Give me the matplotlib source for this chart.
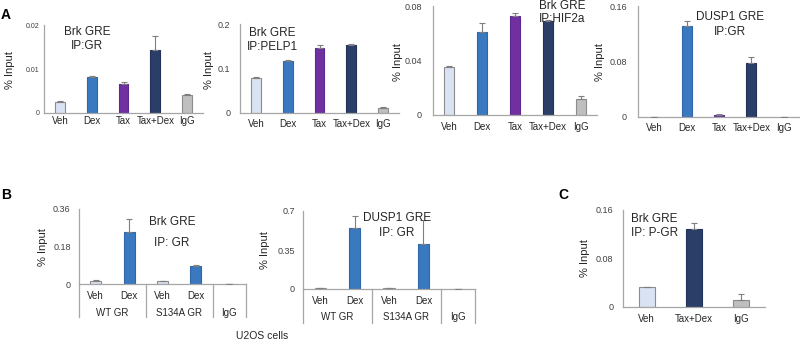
import numpy as np
import matplotlib
matplotlib.use('Agg')
import matplotlib.pyplot as plt
from matplotlib import transforms

plt.rcParams['font.family'] = ['Liberation Sans', 'DejaVu Sans']

# ---- dati ----
cat_a = ['Veh', 'Dex', 'Tax', 'Tax+Dex', 'IgG']
brk_gr = [0.0026, 0.0081, 0.0066, 0.0143, 0.0040]
brk_gr_err = [0.0002, 0.0002, 0.0005, 0.0031, 0.0003]
brk_pelp1 = [0.078, 0.117, 0.145, 0.153, 0.012]
brk_pelp1_err = [0.002, 0.003, 0.007, 0.002, 0.002]
brk_hif2a = [0.035, 0.061, 0.073, 0.069, 0.012]
brk_hif2a_err = [0.0006, 0.0065, 0.002, 0.001, 0.002]
dusp1_gr = [0.0005, 0.131, 0.003, 0.078, 0.0003]
dusp1_gr_err = [0.0001, 0.007, 0.001, 0.008, 0.0001]

cat_b = ['Veh', 'Dex', 'Veh', 'Dex', '']
gruppi_b = ['WT GR', 'S134A GR', 'IgG']
gruppi_b_pos = [0.5, 2.5, 4]
u2os_brk = [0.016, 0.248, 0.013, 0.086, 0.001]
u2os_brk_err = [0.003, 0.064, 0.002, 0.004, 0.0005]
u2os_dusp1 = [0.005, 0.543, 0.005, 0.403, 0.002]
u2os_dusp1_err = [0.002, 0.11, 0.002, 0.22, 0.001]

cat_c = ['Veh', 'Tax+Dex', 'IgG']
pgr = [0.033, 0.128, 0.011]
pgr_err = [0.0006, 0.010, 0.011]

# ---- stile ----
col = {'Veh': '#dae3f3', 'Dex': '#3a78c0', 'Tax': '#7030a0',
       'Tax+Dex': '#2b3e68', 'IgG': '#bfbfbf'}
edge = {'Veh': '#8c8c8c', 'Dex': '#2f66a8', 'Tax': '#5f2890',
        'Tax+Dex': '#22325a', 'IgG': '#8c8c8c'}
W, H = 800, 341

fig = plt.figure(figsize=(8, 3.41), dpi=100)


def nuovo_ax(l, t, w, h):
    return fig.add_axes([l / W, 1 - (t + h) / H, w / W, h / H])


def testo(x, y, s, **kw):
    fig.text(x / W, 1 - y / H, s, **kw)


def grafico(ax, cats, vals, errs, keys, ymax, yticks, ylabs, bw, ypad, xpad, yfs=6.5):
    x = np.arange(len(vals))
    ax.bar(x, vals, width=bw, color=[col[k] for k in keys],
           edgecolor=[edge[k] for k in keys], linewidth=0.8, zorder=2)
    ax.errorbar(x, vals, yerr=[np.zeros(len(vals)), errs], fmt='none',
                ecolor='#7f7f7f', elinewidth=0.8, capsize=2, capthick=0.8, zorder=3)
    ax.set_xlim(-0.5, len(vals) - 0.5)
    ax.set_ylim(0, ymax)
    ax.set_yticks(yticks)
    ax.set_yticklabels(ylabs, fontsize=yfs, color='#404040')
    ax.set_xticks(x)
    ax.set_xticklabels(cats, fontsize=7, color='#262626')
    ax.tick_params(axis='y', length=0, pad=ypad)
    ax.tick_params(axis='x', length=0, pad=xpad)
    for s in ['top', 'right']:
        ax.spines[s].set_visible(False)
    for s in ['left', 'bottom']:
        ax.spines[s].set_color('#a6a6a6')
        ax.spines[s].set_linewidth(0.9)
    ax.patch.set_alpha(0)


# ---- pannello A ----
ax1 = nuovo_ax(44, 25, 159, 88)
grafico(ax1, cat_a, brk_gr, brk_gr_err, cat_a, 0.02, [0, 0.01, 0.02],
        ['0', '0.01', '0.02'], 0.31, 3.5, 2, yfs=5)
ax2 = nuovo_ax(240, 24, 159, 89)
grafico(ax2, cat_a, brk_pelp1, brk_pelp1_err, cat_a, 0.2, [0, 0.1, 0.2],
        ['0', '0.1', '0.2'], 0.31, 7, 4)
ax3 = nuovo_ax(433, 6, 164, 109)
grafico(ax3, cat_a, brk_hif2a, brk_hif2a_err, cat_a, 0.08, [0, 0.04, 0.08],
        ['0', '0.04', '0.08'], 0.31, 8, 5)
ax4 = nuovo_ax(638, 6, 162, 111)
grafico(ax4, cat_a, dusp1_gr, dusp1_gr_err, cat_a, 0.16, [0, 0.08, 0.16],
        ['0', '0.08', '0.16'], 0.31, 8, 4)

# ---- pannello B ----
keys_b = ['Veh', 'Dex', 'Veh', 'Dex', 'IgG']
ax5 = nuovo_ax(79, 209, 167, 75)
grafico(ax5, cat_b, u2os_brk, u2os_brk_err, keys_b, 0.36, [0, 0.18, 0.36],
        ['0', '0.18', '0.36'], 0.33, 6, 5)
ax6 = nuovo_ax(303, 211, 172, 78)
grafico(ax6, cat_b, u2os_dusp1, u2os_dusp1_err, keys_b, 0.7, [0, 0.35, 0.7],
        ['0', '0.35', '0.7'], 0.33, 6, 5)

for ax, ysep, ygrp in [(ax5, -0.44, -0.39), (ax6, -0.44, -0.36)]:
    tr = transforms.blended_transform_factory(ax.transData, ax.transAxes)
    for xs in [-0.5, 1.5, 3.5, len(cat_b) - 0.5]:
        ax.plot([xs, xs], [0, ysep], transform=tr, color='#a6a6a6',
                lw=0.9, clip_on=False)
    for g, gx in zip(gruppi_b, gruppi_b_pos):
        ax.text(gx, ygrp, g, transform=tr, ha='center', va='center',
                fontsize=7, color='#262626')

# ---- pannello C ----
ax7 = nuovo_ax(623, 210, 142, 97)
grafico(ax7, cat_c, pgr, pgr_err, cat_c, 0.16, [0, 0.08, 0.16],
        ['0', '0.08', '0.16'], 0.34, 7, 5)

# ---- etichette asse y ----
for x, y in [(10, 70), (209, 70), (398, 62), (600, 62), (43, 247), (265, 250), (585, 258)]:
    testo(x, y, '% Input', rotation=90, ha='center', va='center',
          fontsize=8, color='#262626')

# ---- titoli dentro i grafici ----
tkw = dict(fontsize=8.5, color='#262626', va='center')
testo(87, 32, 'Brk GRE', ha='center', **tkw)
testo(87, 46, 'IP:GR', ha='center', **tkw)
testo(272, 33, 'Brk GRE', ha='center', **tkw)
testo(272, 47, 'IP:PELP1', ha='center', **tkw)
testo(539, 6, 'Brk GRE', ha='left', **tkw)
testo(539, 19, 'IP:HIF2a', ha='left', **tkw)
testo(730, 17, 'DUSP1 GRE', ha='center', **tkw)
testo(730, 32, 'IP:GR', ha='center', **tkw)
testo(172, 222, 'Brk GRE', ha='center', **tkw)
testo(172, 243, 'IP: GR', ha='center', **tkw)
testo(397, 218, 'DUSP1 GRE', ha='center', **tkw)
testo(397, 233, 'IP: GR', ha='center', **tkw)
testo(631, 219, 'Brk GRE', ha='left', **tkw)
testo(631, 233, 'IP: P-GR', ha='left', **tkw)

testo(262, 336, 'U2OS cells', ha='center', va='center', fontsize=7.5, color='#262626')

# ---- lettere pannelli ----
for x, y, s in [(6, 15, 'A'), (6, 195, 'B'), (563, 195, 'C')]:
    testo(x, y, s, ha='center', va='center', fontsize=10, fontweight='bold')

fig.savefig('out.png', dpi=100)
